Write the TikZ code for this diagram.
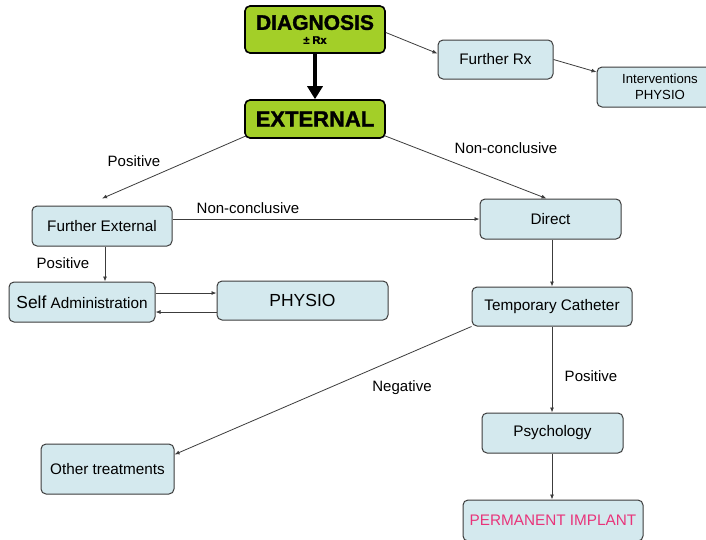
\documentclass[tikz,border=0pt]{standalone}
\usepackage{fontspec}
\setmainfont{Liberation Sans}
\newfontfamily\heavyfont[BoldFeatures={FakeBold=1.5}]{Liberation Sans}
\usetikzlibrary{arrows.meta,calc}
\definecolor{boxgreen}{RGB}{163,207,40}
\definecolor{boxblue}{RGB}{212,233,238}
\definecolor{boxedge}{RGB}{60,60,60}
\definecolor{linecol}{RGB}{60,60,60}
\definecolor{pinktext}{RGB}{232,52,122}
\tikzset{
  greenbox/.style={draw=black,line width=1.6pt,fill=boxgreen,rounded corners=5pt,inner sep=0pt,align=center,font=\heavyfont\bfseries},
  bluebox/.style={draw=boxedge,line width=1pt,fill=boxblue,rounded corners=5pt,inner sep=0pt,align=center,font=\fontsize{15.3}{18}\selectfont},
  lab/.style={font=\fontsize{15}{18}\selectfont,inner sep=0pt},
  conn/.style={draw=linecol,line width=0.8pt,-{Latex[length=5pt,width=4pt]}},
  bigarrow/.style={draw=black,line width=4.5pt,-{Triangle[length=13pt,width=15pt]}}
}
\begin{document}
\begin{tikzpicture}[x=1pt,y=-1pt]
\clip (0,0) rectangle (706,539);
\fill[white] (0,0) rectangle (706,539);
% nodes
\node[greenbox,minimum width=140pt,minimum height=47pt] (diag) at (315,29.5)
  {\fontsize{21}{22}\selectfont DIAGNOSIS\\[2pt]\fontsize{11}{11}\selectfont ± Rx};
\node[greenbox,minimum width=140pt,minimum height=38pt,font=\heavyfont\fontsize{22}{24}\selectfont\bfseries] (ext) at (315,119) {EXTERNAL};
\node[bluebox,minimum width=115pt,minimum height=39pt] (frx) at (495.5,59.5) {Further Rx};
\node[bluebox,minimum width=126pt,minimum height=40pt,font=\fontsize{13.2}{16}\selectfont] (intv) at (660,87) {Interventions\\PHYSIO};
\node[bluebox,minimum width=140pt,minimum height=40pt] (fext) at (102,226) {Further External};
\node[bluebox,minimum width=146pt,minimum height=40pt] (self) at (82,302)
  {{\fontsize{17.4}{20}\selectfont Self} Administration};
\node[bluebox,minimum width=171pt,minimum height=39pt,font=\fontsize{17.5}{20}\selectfont] (phys) at (302.5,300.5) {PHYSIO};
\node[bluebox,minimum width=141pt,minimum height=40pt] (direct) at (550.5,219) {Direct};
\node[bluebox,minimum width=160pt,minimum height=39pt] (temp) at (552,306.5) {Temporary Catheter};
\node[bluebox,minimum width=133pt,minimum height=50pt] (other) at (107.5,469) {Other treatments};
\node[bluebox,minimum width=141pt,minimum height=40pt] (psy) at (552.5,433) {Psychology};
\node[bluebox,minimum width=180pt,minimum height=41pt,text=pinktext] (perm) at (553,520.5) {PERMANENT IMPLANT};
% labels
\node[lab] (l1) at (134,161) {Positive};
\node[lab] (l2) at (506,148) {Non-conclusive};
\node[lab] (l3) at (248,208) {Non-conclusive};
\node[lab] (l4) at (63,263) {Positive};
\node[lab] (l5) at (402,388) {Negative};
\node[lab] (l6) at (591,376) {Positive};
% connectors
\draw[bigarrow] (diag.south) -- (ext.north);
\draw[conn] ([yshift=-3pt]diag.east) -- ([yshift=6pt]frx.west);
\draw[conn] (frx.east) -- ([yshift=15pt]intv.west);
\draw[conn] ([xshift=2pt,yshift=3pt]ext.south west) -- ([yshift=7pt]fext.north);
\draw[conn] ([xshift=-1pt,yshift=3pt]ext.south east) -- ([xshift=-4pt]direct.north);
\draw[conn] (fext.east |- direct.west) -- (direct.west);
\draw[conn] ([xshift=3pt]fext.south) -- ([xshift=3pt]fext.south |- self.north);
\draw[conn] ([yshift=9pt]self.east) -- ([yshift=9pt]self.east -| phys.west);
\draw[conn] ([yshift=-10pt]self.east -| phys.west) -- ([yshift=-10pt]self.east);
\draw[conn] (direct.south -| temp.north) -- (temp.north);
\draw[conn] (temp.south west) -- ([yshift=-11pt]other.north east);
\draw[conn] (temp.south) -- (temp.south |- psy.north);
\draw[conn] (psy.south -| temp.south) -- (temp.south |- perm.north);
\end{tikzpicture}
\end{document}
